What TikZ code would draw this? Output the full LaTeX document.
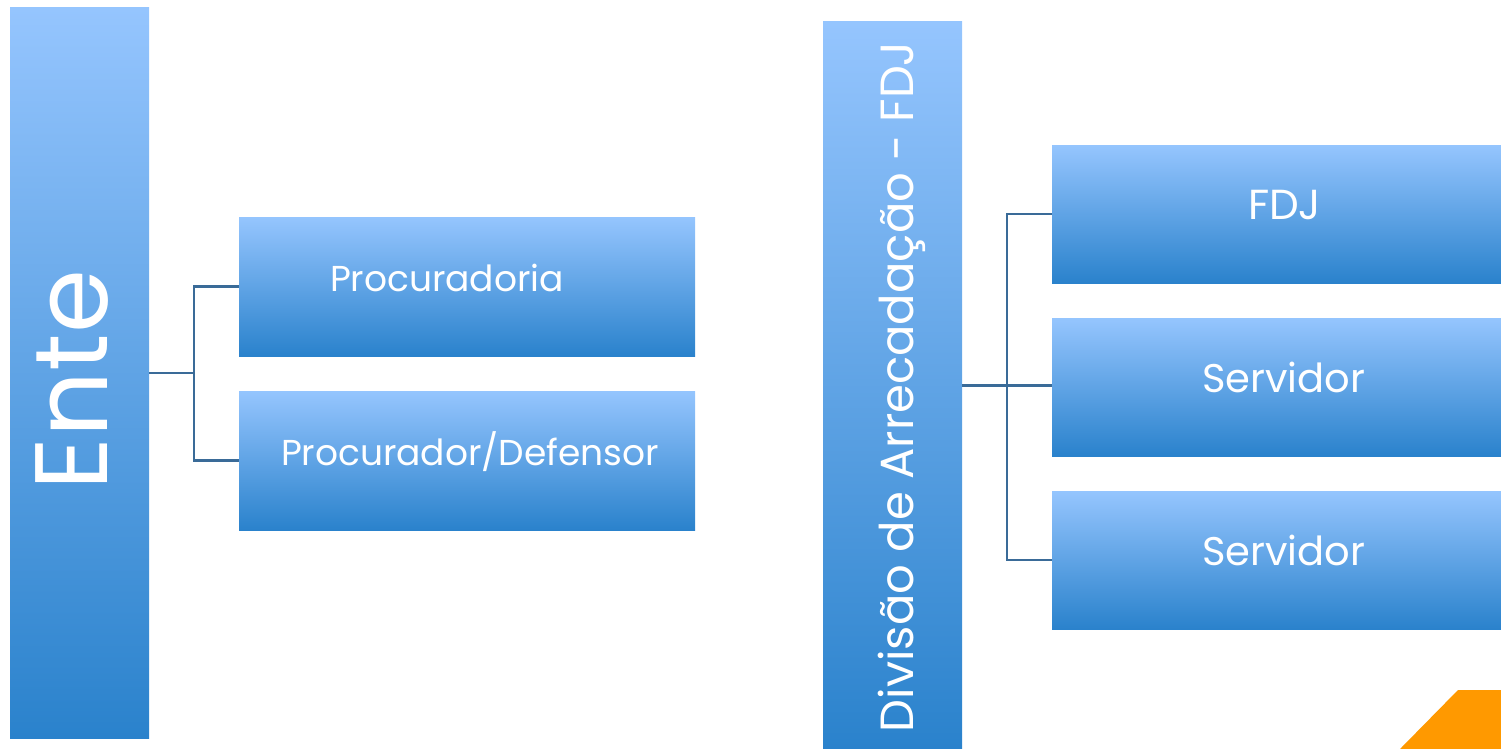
\documentclass[tikz,border=0pt]{standalone}
\usepackage{fontspec}
\setmainfont{Poppins}
\definecolor{lightblue}{HTML}{95C5FE}
\definecolor{darkblue}{HTML}{2A82CC}
\definecolor{connblue}{HTML}{3A6B98}
\definecolor{orng}{HTML}{FF9900}
\newcommand\fsz[1]{\fontsize{#1}{#1}\selectfont}
\tikzset{
  box/.style={rectangle, draw=none, inner sep=0pt, outer sep=0pt, top color=lightblue, bottom color=darkblue, anchor=north west},
  lbl/.style={text=white, inner sep=0pt, outer sep=0pt},
  conn/.style={draw=connblue, line width=2.2pt},
}
\begin{document}
\begin{tikzpicture}[x=1pt,y=-1pt]
\useasboundingbox (0,0) rectangle (1501,749);
% left column
\node[box, minimum width=139pt, minimum height=730pt] (ente) at (10,8) {};
\node[lbl, rotate=90, anchor=base west, font=\fsz{103}] (entet) at (107,490) {Ente};
\node[box, minimum width=456pt, minimum height=139pt] (proc) at (239,217) {};
\node[box, minimum width=456pt, minimum height=139pt] (pdef) at (239,391) {};
\node[lbl, anchor=base west, font=\fsz{36}] (proct) at (330,291) {Procuradoria};
\node[lbl, anchor=base west, font=\fsz{36}] (pdeft) at (281,465) {Procurador/Defensor};
\coordinate (j1) at (194,373);
\draw[conn] (ente.east) -- (j1);
\draw[conn] (proc.west) -| (j1) |- (pdef.west);
% right column
\node[box, minimum width=139pt, minimum height=727pt] (div) at (823,22) {};
\node[lbl, rotate=90, anchor=base west, font=\fsz{46.5}] (divt) at (913,732) {Divisão de Arrecadação - FDJ};
\node[box, minimum width=449pt, minimum height=138pt] (fdj) at (1052,145) {};
\node[box, minimum width=449pt, minimum height=138pt] (serv1) at (1052,318) {};
\node[box, minimum width=449pt, minimum height=138pt] (serv2) at (1052,491) {};
\node[lbl, anchor=base west, font=\fsz{42}] (fdjt) at (1248,219) {FDJ};
\node[lbl, anchor=base west, font=\fsz{40}] (serv1t) at (1202,392) {Servidor};
\node[lbl, anchor=base west, font=\fsz{40}] (serv2t) at (1202,565) {Servidor};
\coordinate (j2) at (1007,386);
\draw[conn] (div.east) -- (div.east -| serv1.west);
\draw[conn] (fdj.west) -| (j2) |- (serv2.west);
% orange corner
\fill[orng] (1400,749) -- (1458,690) -- (1501,690) -- (1501,749) -- cycle;
\end{tikzpicture}
\end{document}
